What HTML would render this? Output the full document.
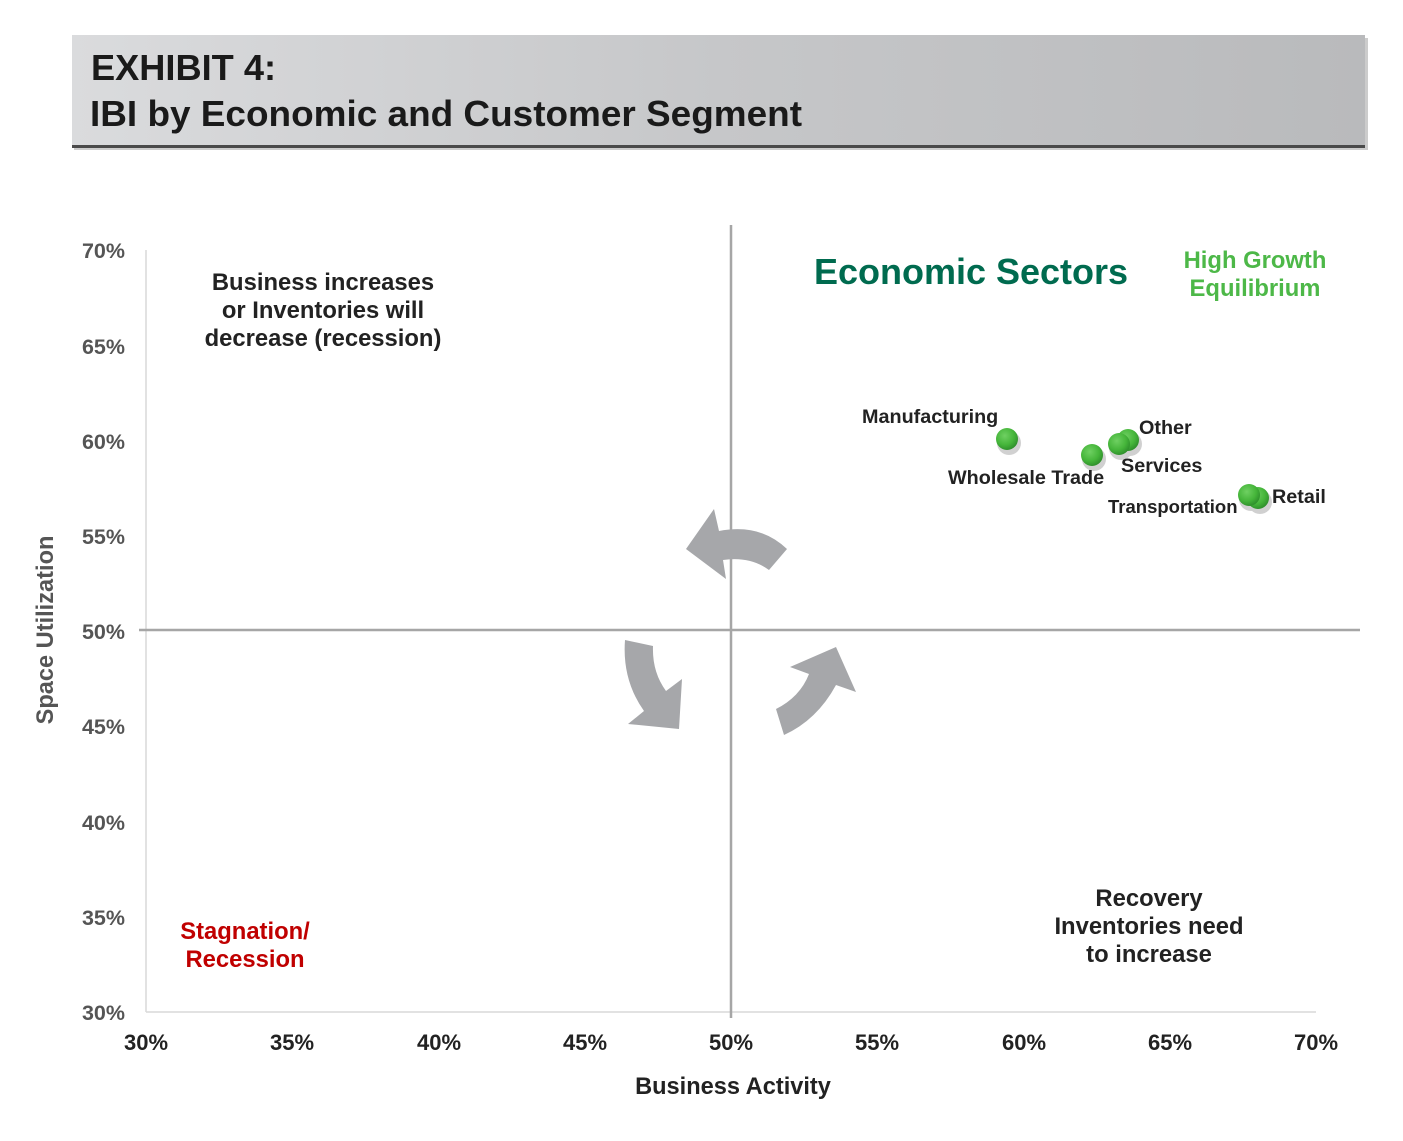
<!DOCTYPE html>
<html><head><meta charset="utf-8"><style>
html,body{margin:0;padding:0;background:#fff;}
svg{display:block;}
text{font-family:"Liberation Sans",Arial,sans-serif;font-weight:bold;}
</style></head><body>
<svg width="1403" height="1141" viewBox="0 0 1403 1141" xmlns="http://www.w3.org/2000/svg">
<defs>
<linearGradient id="hd" x1="0" x2="1" y1="0" y2="0">
<stop offset="0" stop-color="#dadbdd"/><stop offset="0.5" stop-color="#c6c7c9"/><stop offset="1" stop-color="#b9babc"/>
</linearGradient>
<radialGradient id="dot" cx="0.4" cy="0.35" r="0.7">
<stop offset="0" stop-color="#6fd062"/><stop offset="0.6" stop-color="#45b53a"/><stop offset="1" stop-color="#2c8a2a"/>
</radialGradient>
</defs>
<rect x="74" y="38" width="1294" height="112" fill="#999" opacity="0.5"/>
<rect x="72" y="35" width="1293" height="112" fill="url(#hd)"/>
<rect x="72" y="145" width="1293" height="3" fill="#4a4a4a"/>
<text x="91" y="80" font-size="36" fill="#1a1a1a" textLength="185" lengthAdjust="spacingAndGlyphs">EXHIBIT 4:</text>
<text x="90" y="126" font-size="36" fill="#1a1a1a" textLength="712" lengthAdjust="spacingAndGlyphs">IBI by Economic and Customer Segment</text>

<line x1="146" y1="250" x2="146" y2="1012" stroke="#d9d9d9" stroke-width="1.5"/>
<line x1="146" y1="1012" x2="1316" y2="1012" stroke="#d9d9d9" stroke-width="1.5"/>
<line x1="731" y1="225" x2="731" y2="1018" stroke="#a6a6a6" stroke-width="2.5"/>
<line x1="139" y1="630" x2="1360" y2="630" stroke="#a6a6a6" stroke-width="2.5"/>

<g font-size="21.5" fill="#555" text-anchor="end">
<text x="125" y="258">70%</text><text x="125" y="354">65%</text><text x="125" y="449">60%</text>
<text x="125" y="544">55%</text><text x="125" y="639">50%</text><text x="125" y="734">45%</text>
<text x="125" y="830">40%</text><text x="125" y="925">35%</text><text x="125" y="1020">30%</text>
</g>
<g font-size="22" fill="#222" text-anchor="middle">
<text x="146" y="1050">30%</text><text x="292" y="1050">35%</text><text x="439" y="1050">40%</text>
<text x="585" y="1050">45%</text><text x="731" y="1050">50%</text><text x="877" y="1050">55%</text>
<text x="1024" y="1050">60%</text><text x="1170" y="1050">65%</text><text x="1316" y="1050">70%</text>
<text x="733" y="1094" font-size="23.6">Business Activity</text>
</g>
<text transform="translate(53,630) rotate(-90)" font-size="23.6" fill="#555" text-anchor="middle">Space Utilization</text>

<g fill="#a6a7aa">
<path d="M787,549 Q760,523 719,531 L714,509 L686,549 L726,579 L723,560 Q750,556 769,570 Z"/>
<path d="M625,640 L653,646 Q652,672 666,691 L682,679 L679,729 L628,724 L644,711 Q622,680 625,640 Z"/>
<path d="M776,709 Q800,697 809,674 L790,667 L836,647 L856,692 L836,685 Q817,720 784,735 Z"/>
</g>

<g font-size="23.8" fill="#222" text-anchor="middle">
<text x="323" y="290">Business increases</text>
<text x="323" y="318">or Inventories will</text>
<text x="323" y="346">decrease (recession)</text>
<text x="1149" y="906">Recovery</text>
<text x="1149" y="934">Inventories need</text>
<text x="1149" y="962">to increase</text>
</g>
<g font-size="23.8" fill="#c00000" text-anchor="middle">
<text x="245" y="939">Stagnation/</text><text x="245" y="967">Recession</text>
</g>
<g font-size="23.8" fill="#4db848" text-anchor="middle">
<text x="1255" y="268">High Growth</text><text x="1255" y="296">Equilibrium</text>
</g>
<text x="971" y="284" font-size="36" fill="#006b4f" text-anchor="middle">Economic Sectors</text>

<g fill="#000" opacity="0.18">
<circle cx="1009" cy="443" r="12"/><circle cx="1094" cy="459" r="12"/><circle cx="1121" cy="448" r="12"/>
<circle cx="1130" cy="444" r="12"/><circle cx="1251" cy="499" r="12"/><circle cx="1260" cy="502" r="12"/>
</g>
<g fill="url(#dot)">
<circle cx="1007" cy="439" r="11"/><circle cx="1092" cy="455" r="11"/>
<circle cx="1128" cy="440" r="11"/><circle cx="1119" cy="444" r="11"/>
<circle cx="1258" cy="498" r="11"/><circle cx="1249" cy="495" r="11"/>
</g>
<g font-size="19.8" fill="#222">
<text x="862" y="423">Manufacturing</text>
<text x="948" y="484">Wholesale Trade</text>
<text x="1139" y="434">Other</text>
<text x="1121" y="472">Services</text>
<text x="1108" y="513" font-size="18.5">Transportation</text>
<text x="1272" y="503">Retail</text>
</g>
</svg>
</body></html>
